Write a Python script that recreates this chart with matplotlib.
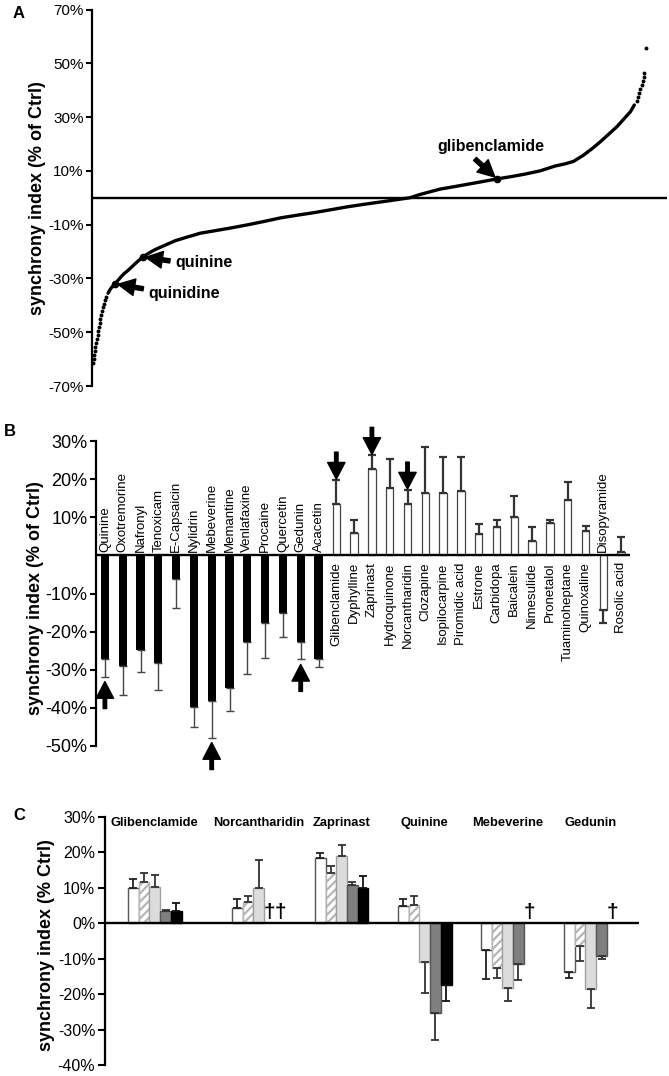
import numpy as np
import matplotlib
matplotlib.use('Agg')
import matplotlib.pyplot as plt
from matplotlib.ticker import FuncFormatter

plt.rcParams['font.family'] = ['Liberation Sans', 'DejaVu Sans']
plt.rcParams['hatch.linewidth'] = 1.6

# ---------------- data ----------------
# A: whole library sorted by synchrony index
rank_a = np.array([2, 3, 4, 5, 6, 8, 9, 10, 11, 12, 14, 15, 16, 18, 19, 21, 23, 25,
                   29, 33, 37, 42, 47, 52, 58, 65, 72, 78, 85, 92, 101, 110, 119, 128,
                   139, 150, 161, 172, 184, 195, 218, 249, 280, 311, 340, 370, 399, 430,
                   460, 489, 520, 547, 574, 592, 610, 628, 656, 683, 710, 731, 755, 782,
                   809, 836, 854, 869, 887, 903, 917, 932, 948, 961, 972, 979,
                   984, 986, 988, 990, 992, 994, 996, 997, 1000])
sync_a = np.array([-61.5, -60, -58.5, -57, -55.5, -54, -52.5, -51, -49.5, -48, -46.5, -45,
                   -43.5, -42, -40.5, -39.5, -38, -37,
                   -35.5, -34, -33, -32, -30.7, -29.5, -28.2, -27, -25.7, -24.5, -23.2,
                   -22, -20.8, -19.7, -18.8, -18, -17, -16, -15.3, -14.6, -13.9, -13.2,
                   -12.4, -11.3, -10.1, -8.8, -7.5, -6.5, -5.6, -4.5, -3.4, -2.5, -1.6,
                   -0.8, 0, 1.2, 2.2, 3.2, 4.2, 5.2, 6.2, 7.0, 7.8, 8.8, 10.0, 11.8, 12.6,
                   13.5, 15.8, 18.3, 20.7, 23.5, 26.5, 29.5, 32, 34.5,
                   36, 37.5, 39, 40.5, 42, 43.5, 45, 46.5, 55.5])
marked_a = ['quinidine', 'quinine', 'glibenclamide']
marked_rank = [42, 92, 731]
marked_sync = [-32, -22, 7.0]

# B: confirmed hits (black = decrease, white = increase)
dec_names = ['Quinine', 'Oxotremorine', 'Nafronyl', 'Tenoxicam', 'E-Capsaicin', 'Nylidrin',
             'Mebeverine', 'Memantine', 'Venlafaxine', 'Procaine', 'Quercetin', 'Gedunin',
             'Acacetin']
dec_mean = [-27.3, -28.9, -24.9, -28.1, -6.3, -39.9, -38.3, -34.9, -22.6, -17.8, -15.2,
            -22.6, -27.3]
dec_err = [4.5, 7.6, 5.8, 7.1, 7.6, 5.0, 9.5, 6.0, 8.6, 9.0, 6.3, 4.7, 2.1]

inc_names = ['Glibenclamide', 'Dyphylline', 'Zaprinast', 'Hydroquinone', 'Norcantharidin',
             'Clozapine', 'Isopilocarpine', 'Piromidic acid', 'Estrone', 'Carbidopa',
             'Baicalein', 'Nimesulide', 'Pronetalol', 'Tuaminoheptane', 'Quinoxaline',
             'Disopyramide', 'Rosolic acid']
inc_mean = [13.6, 5.8, 22.6, 17.8, 13.4, 16.3, 16.3, 16.8, 5.5, 7.4, 10.0, 3.7, 8.4,
            14.4, 6.3, -14.4, 1.0]
inc_err = [6.1, 3.6, 3.6, 7.4, 3.7, 12.1, 9.4, 8.9, 2.6, 2.0, 5.5, 3.7, 1.0, 4.8, 1.3,
           3.4, 3.7]

marked_b = ['Quinine', 'Mebeverine', 'Gedunin', 'Glibenclamide', 'Zaprinast', 'Norcantharidin']

# C: follow-up of six compounds, five conditions (nan = not tested / dead)
c_groups = ['Glibenclamide', 'Norcantharidin', 'Zaprinast', 'Quinine', 'Mebeverine', 'Gedunin']
c_white = [10.1, 4.2, 18.5, 4.8, -7.6, -13.7]
c_white_err = [2.3, 2.7, 1.4, 2.1, 8.2, 1.8]
c_hatch = [11.7, 6.1, 14.1, 5.2, -12.7, -6.4]
c_hatch_err = [2.6, 1.7, 2.2, 2.4, 2.8, 4.3]
c_lgray = [10.3, 10.1, 19.0, -11.0, -18.2, -18.5]
c_lgray_err = [3.3, 7.9, 3.0, 8.6, 3.8, 5.5]
c_gray = [3.4, np.nan, 10.7, -25.3, -11.4, -9.1]
c_gray_err = [0.4, np.nan, 1.0, 7.6, 4.7, 1.1]
c_black = [3.5, np.nan, 10.1, -17.4, np.nan, np.nan]
c_black_err = [2.3, np.nan, 3.3, 4.4, np.nan, np.nan]


# ---------------- helpers ----------------
W, H = 669, 1076
pct = FuncFormatter(lambda v, _: f'{v:.0f}%')


def axes_px(left, right, top, bottom):
    return fig.add_axes([left / W, 1 - bottom / H, (right - left) / W, (bottom - top) / H])


def style(ax, ticks, fs, tlen):
    for s in ['top', 'right', 'bottom']:
        ax.spines[s].set_visible(False)
    ax.spines['left'].set_linewidth(1.6)
    ax.set_xticks([])
    ax.set_yticks(ticks)
    ax.yaxis.set_major_formatter(pct)
    ax.tick_params(axis='y', direction='out', length=tlen, width=1.5, labelsize=fs, pad=2)
    ax.axhline(0, color='k', lw=1.7, zorder=5)


def one_sided(vals, errs):
    vals, errs = np.asarray(vals, float), np.asarray(errs, float)
    return [np.where(vals < 0, errs, 0), np.where(vals >= 0, errs, 0)]


fig = plt.figure(figsize=(W / 100, H / 100), dpi=100)

# ---------------- A ----------------
axA = axes_px(92, 667, 9.5, 386)
style(axA, [-70, -50, -30, -10, 10, 30, 50, 70], 11, 4)
axA.set_ylim(-70, 70)
axA.set_xlim(0, 1038)
solid = (sync_a > -36) & (sync_a < 35)
axA.plot(rank_a[solid], sync_a[solid], color='k', lw=2.4, solid_capstyle='round')
axA.plot(rank_a[~solid], sync_a[~solid], 'o', color='k', ms=2.8, mec='none')
axA.plot(marked_rank, marked_sync, 'o', color='k', ms=4.5)
arrow_a = dict(arrowstyle='simple,head_length=1.2,head_width=1.2,tail_width=0.3',
               mutation_scale=10, fc='k', ec='k', shrinkA=0, shrinkB=2)
tail_off = [(28, -5), (27, -4), (-22, 20)]
text_off = [(33, -10), (32, -6), (-6, 32)]
for name, r, v, t, o in zip(marked_a, marked_rank, marked_sync, tail_off, text_off):
    axA.annotate('', xy=(r, v), xytext=t, textcoords='offset pixels', arrowprops=arrow_a)
    axA.annotate(name, xy=(r, v), xytext=o, textcoords='offset pixels',
                 ha='left' if o[0] > 0 else 'center', va='center',
                 fontsize=11.5, fontweight='bold')
axA.text(-0.094, 0.5, 'synchrony index (% of Ctrl)', transform=axA.transAxes,
         rotation=90, ha='center', va='center', fontsize=13, fontweight='bold')

# ---------------- B ----------------
axB = axes_px(96, 630, 441, 746)
style(axB, [-50, -40, -30, -20, -10, 10, 20, 30], 13, 4)
axB.set_ylim(-50, 30)
axB.set_xlim(-0.5, 29.5)
xd = np.arange(len(dec_names))
xi = np.arange(len(inc_names)) + len(dec_names)
axB.bar(xd, dec_mean, width=0.47, color='k', zorder=2)
axB.bar(xi, inc_mean, width=0.42, color='white', edgecolor='#444', lw=0.9, zorder=2)
axB.errorbar(xd, dec_mean, yerr=one_sided(dec_mean, dec_err), fmt='none',
             ecolor='#444', elinewidth=1.0, capsize=3, capthick=1.0)
axB.errorbar(xi, inc_mean, yerr=one_sided(inc_mean, inc_err), fmt='none',
             ecolor='#333', elinewidth=1.6, capsize=3.2, capthick=1.6)
names_b = dec_names + inc_names
mean_b = dec_mean + inc_mean
err_b = dec_err + inc_err
arrow_b = dict(arrowstyle='simple,head_length=1.2,head_width=1.25,tail_width=0.25',
               mutation_scale=10, fc='k', ec='k', shrinkA=0, shrinkB=0)
for i, (n, v, e) in enumerate(zip(names_b, mean_b, err_b)):
    if v < 0:
        axB.text(i, 1.0, n, rotation=90, ha='center', va='bottom', fontsize=9.5)
    else:
        axB.text(i, -1.8, n, rotation=90, ha='center', va='top', fontsize=9.5)
    if n in marked_b:
        if v < 0:
            axB.annotate('', xy=(i, v - e - 1.3), xytext=(0, -27), textcoords='offset pixels',
                         arrowprops=arrow_b)
        else:
            axB.annotate('', xy=(i, v + e + 0.3), xytext=(0, 27), textcoords='offset pixels',
                         arrowprops=arrow_b)
axB.text(-0.114, 0.485, 'synchrony index (% of Ctrl)', transform=axB.transAxes,
         rotation=90, ha='center', va='center', fontsize=13, fontweight='bold')

# ---------------- C ----------------
axC = axes_px(105, 639, 817, 1065)
style(axC, np.arange(-40, 31, 10), 11.5, 5)
axC.set_ylim(-40, 30)
axC.set_xlim(-0.85, 5.58)
group_x = np.arange(len(c_groups), dtype=float)
group_x[0] -= 0.25
bw = 0.129
series = [(c_white, c_white_err, dict(color='white', edgecolor='#555'), '#222'),
          (c_hatch, c_hatch_err, dict(color='white', edgecolor='#b5b5b5', hatch='////'), '#333'),
          (c_lgray, c_lgray_err, dict(color='#dcdcdc', edgecolor='#a0a0a0'), '#333'),
          (c_gray, c_gray_err, dict(color='#7f7f7f', edgecolor='#555'), '#333'),
          (c_black, c_black_err, dict(color='black', edgecolor='black'), '#111')]
for k, (vals, errs, kw, ec) in enumerate(series):
    x = group_x + (k - 2) * bw
    vals = np.asarray(vals, float)
    ok = ~np.isnan(vals)
    axC.bar(x[ok], vals[ok], width=bw, lw=1.0, zorder=2, **kw)
    axC.errorbar(x[ok], vals[ok], yerr=[a[ok] for a in one_sided(vals, errs)], fmt='none',
                 ecolor=ec, elinewidth=1.3, capsize=2.6, capthick=1.3)
    for xx in x[~ok]:
        axC.text(xx, 0.4, '\u2020', ha='center', va='bottom', fontsize=15, fontweight='bold')
for gx, g in zip(group_x, c_groups):
    axC.text(gx, 28.3, g, ha='center', va='center', fontsize=9.3, fontweight='bold')
axC.text(-0.11, 0.484, 'synchrony index (% Ctrl)', transform=axC.transAxes,
         rotation=90, ha='center', va='center', fontsize=13, fontweight='bold')

# panel letters
for lab, px, py in [('A', 18.5, 13.5), ('B', 10, 432), ('C', 19, 816)]:
    fig.text(px / W, 1 - py / H, lab, ha='center', va='center', fontsize=12, fontweight='bold')

fig.savefig('out.png', dpi=100)
